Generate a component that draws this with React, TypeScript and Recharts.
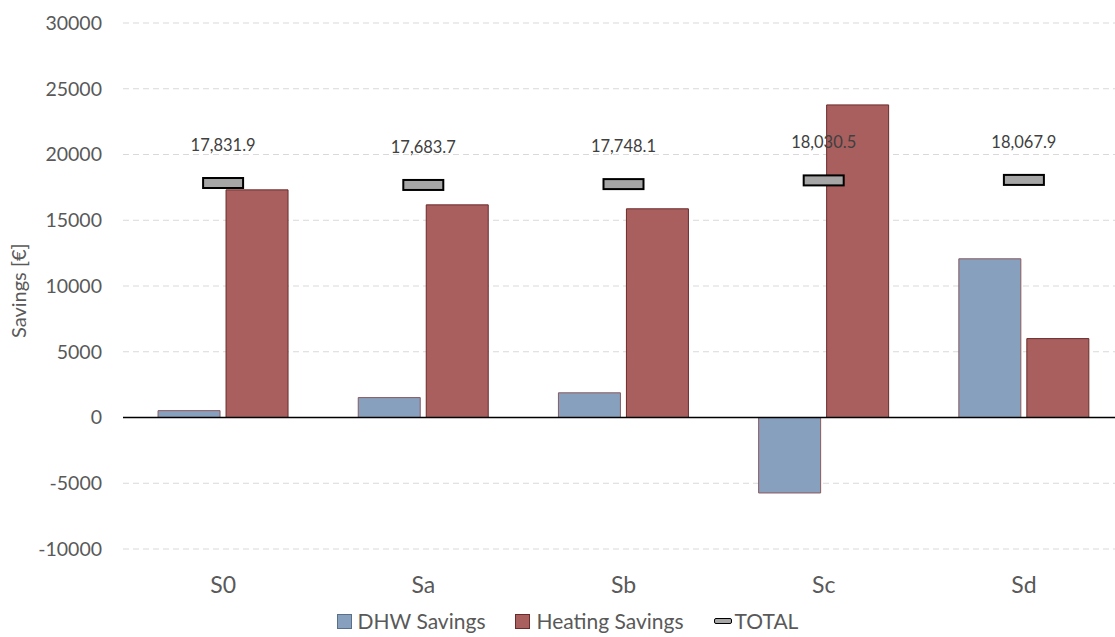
import React from 'react';
import {
  ComposedChart, Bar, Line, XAxis, YAxis, CartesianGrid, ReferenceLine, Legend, LabelList,
} from 'recharts';

const scenarios = ['S0', 'Sa', 'Sb', 'Sc', 'Sd'];
const dhwSavings = [522, 1514, 1878, -5740, 12068];
const heatingSavings = [17310, 16170, 15870, 23771, 6000];
const totals = [17831.9, 17683.7, 17748.1, 18030.5, 18067.9];
const yTicks = [-10000, -5000, 0, 5000, 10000, 15000, 20000, 25000, 30000];

const data = scenarios.map((name, i) => ({
  name,
  dhw: dhwSavings[i],
  heating: heatingSavings[i],
  total: totals[i],
}));

const FONT = 'Lato, "Open Sans", sans-serif';
const TEXT = '#595959';

const TotalMarker = (props: any) => {
  const { cx, cy } = props;
  if (cx == null || cy == null) return null;
  return <rect x={cx - 20} y={cy - 5} width={40} height={10} fill="#a6a6a6" stroke="#000" strokeWidth={2} />;
};

const fmt = (v: number) =>
  v.toLocaleString('en-US', { minimumFractionDigits: 1, maximumFractionDigits: 1 });

const LegendContent = () => (
  <div style={{ display: 'flex', justifyContent: 'center', alignItems: 'center', fontFamily: FONT, fontSize: 21, lineHeight: '24px', color: TEXT, gap: 30, paddingLeft: 20 }}>
    <span style={{ display: 'flex', alignItems: 'center' }}>
      <span style={{ width: 13, height: 13, background: '#87a0bd', border: '1px solid #5a6f8a', marginRight: 6 }} />
      DHW Savings
    </span>
    <span style={{ display: 'flex', alignItems: 'center' }}>
      <span style={{ width: 13, height: 13, background: '#a85f5e', border: '1px solid #6b2b2b', marginRight: 6 }} />
      Heating Savings
    </span>
    <span style={{ display: 'flex', alignItems: 'center' }}>
      <span style={{ width: 16, height: 4, background: '#a6a6a6', border: '1.5px solid #000', borderRadius: 2, marginRight: 3 }} />
      TOTAL
    </span>
  </div>
);

export default function App() {
  return (
    <div style={{ position: 'absolute', left: 0, top: 0, width: 1115, height: 637, background: '#fff', overflow: 'hidden' }}>
      <ComposedChart
        width={1124}
        height={637}
        data={data}
        margin={{ top: 23, right: 0, bottom: 0, left: 0 }}
        barCategoryGap="17.5%"
        barGap={6}
      >
        <CartesianGrid vertical={false} stroke="#d9d9d9" strokeDasharray="6 4" />
        <XAxis
          dataKey="name"
          axisLine={false}
          tickLine={false}
          height={58}
          tickMargin={22}
          tick={{ fontFamily: FONT, fontSize: 23, fill: TEXT }}
        />
        <YAxis
          width={123}
          domain={[-10000, 30000]}
          ticks={yTicks}
          axisLine={false}
          tickLine={false}
          tickMargin={15}
          tick={{ fontFamily: FONT, fontSize: 19.5, fill: TEXT }}
          label={{ value: 'Savings [€]', angle: -90, position: 'insideLeft', dx: 14, dy: 52, style: { fontFamily: FONT, fontSize: 20, fill: TEXT } }}
        />
        <ReferenceLine y={0} stroke="#000" strokeWidth={1.5} />
        <Bar dataKey="dhw" name="DHW Savings" fill="#87a0bd" stroke="#8b5a5e" strokeWidth={1} isAnimationActive={false} />
        <Bar dataKey="heating" name="Heating Savings" fill="#a85f5e" stroke="#6b2b2b" strokeWidth={1} isAnimationActive={false} />
        <Line
          dataKey="total"
          name="TOTAL"
          stroke="none"
          dot={<TotalMarker />}
          activeDot={false}
          isAnimationActive={false}
        >
          <LabelList
            dataKey="total"
            position="top"
            offset={32}
            formatter={(v: any) => fmt(Number(v))}
            style={{ fontFamily: FONT, fontSize: 16.5, fill: '#404040' }}
          />
        </Line>
        <Legend verticalAlign="bottom" height={30} wrapperStyle={{ bottom: -2, left: 0, width: 1115 }} content={<LegendContent />} />
      </ComposedChart>
    </div>
  );
}
